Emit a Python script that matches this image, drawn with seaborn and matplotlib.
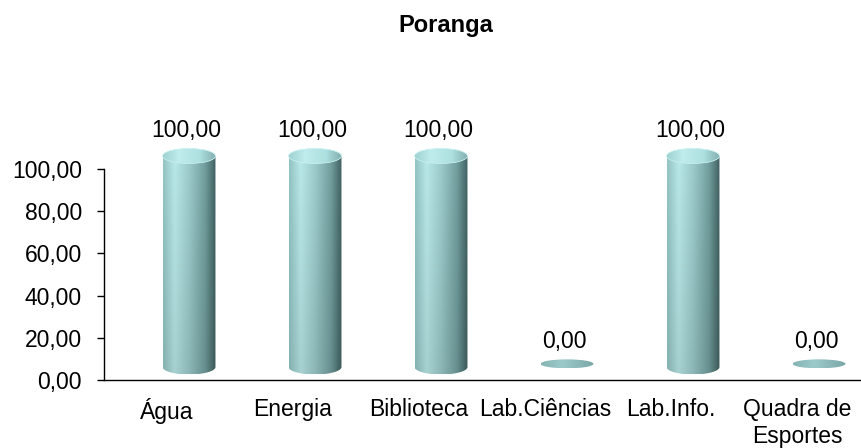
import numpy as np
import pandas as pd
import matplotlib
matplotlib.use("Agg")
import matplotlib.pyplot as plt
import seaborn as sns
from matplotlib.path import Path
from matplotlib.patches import PathPatch, Ellipse
from matplotlib.transforms import ScaledTranslation
from matplotlib.colors import LinearSegmentedColormap

# ---- data ----
title = "Poranga"
categories = ["Água", "Energia", "Biblioteca", "Lab.Ciências", "Lab.Info.", "Quadra de\nEsportes"]
values = [100.0, 100.0, 100.0, 0.0, 100.0, 0.0]
yticks = [0, 20, 40, 60, 80, 100]

def fmt(v):
    return f"{v:.2f}".replace(".", ",")

sns.set_theme(style="white")
plt.rcParams["font.family"] = ["Liberation Sans", "DejaVu Sans"]
plt.rcParams["text.color"] = "black"
plt.rcParams["xtick.color"] = "black"
plt.rcParams["ytick.color"] = "black"

W, H = 861, 448
px_per_unit = (380 - 169) / 100.0
ytop = 120.0
fig = plt.figure(figsize=(W / 100, H / 100), dpi=100)
ax = fig.add_axes([104 / W, (H - 380) / H, (860 - 104) / W, ytop * px_per_unit / H])
ax.patch.set_alpha(0)

df = pd.DataFrame({"cat": categories, "val": values})
sns.barplot(data=df, x="cat", y="val", ax=ax, width=0.42, color="#8fbcbc", errorbar=None)

ax.set_xlim(-0.5, len(categories) - 0.5)
ax.set_ylim(0, ytop)
ax.set_yticks(yticks)
ax.set_yticklabels([fmt(v) for v in yticks], fontsize=16.5)
ax.set_xticks(range(len(categories)))
ax.set_xticklabels(categories, fontsize=16.5)
ax.set_xticks(np.arange(-0.5, len(categories)), minor=True)
ax.tick_params(axis="x", which="major", length=0, pad=13)
ax.tick_params(axis="x", which="minor", length=6, width=1, color="black", direction="out")
ax.tick_params(axis="y", length=5, width=1, color="black", direction="out", pad=11, left=True)
ax.set_xlabel("")
ax.set_ylabel("")
for s in ["top", "right"]:
    ax.spines[s].set_visible(False)
for s in ["left", "bottom"]:
    ax.spines[s].set_color("black")
    ax.spines[s].set_linewidth(1.0)
ax.spines["left"].set_bounds(0, 100)

# 3D-like offset of cylinders
trans = ax.transData + ScaledTranslation(0.22, 0.13, fig.dpi_scale_trans)
ey = 7.5 / px_per_unit  # ellipse half-height in data units

body_cmap = LinearSegmentedColormap.from_list(
    "body", [(0.0, "#8fbfbf"), (0.22, "#b6e4e4"), (0.5, "#98c6c6"), (0.8, "#6f9a9a"), (1.0, "#3f5e5e")])
top_cmap = LinearSegmentedColormap.from_list(
    "top", [(0.0, "#9fd2d2"), (0.3, "#c0ecec"), (0.7, "#ade0e0"), (1.0, "#82acac")])
flat_cmap = LinearSegmentedColormap.from_list(
    "flat", [(0.0, "#86b4b4"), (0.4, "#9ccaca"), (1.0, "#7aa6a6")])

def grad_image(cmap, extent, clip, z, vshade=True):
    g = np.linspace(0, 1, 200)
    rgba = cmap(g)[None, :, :].repeat(60, axis=0)
    if vshade:
        f = np.linspace(0.92, 1.02, 60)[:, None, None]
        rgba[:, :, :3] = np.clip(rgba[:, :, :3] * f, 0, 1)
    im = ax.imshow(rgba, extent=extent, origin="lower", aspect="auto",
                   interpolation="bicubic", transform=trans, zorder=z)
    im.set_clip_box(None)
    im.set_clip_path(clip)
    return im

for p, v in zip(ax.patches, values):
    x0, w, h = p.get_x(), p.get_width(), p.get_height()
    p.set_visible(False)
    xc = x0 + w / 2
    t = np.linspace(np.pi, 2 * np.pi, 60)
    if h > 0:
        verts = [(x0, h)] + [(xc + w / 2 * np.cos(a), ey * np.sin(a)) for a in t] + [(x0 + w, h), (x0, h)]
        body = PathPatch(Path(verts, closed=True), transform=trans, facecolor="none", edgecolor="none")
        grad_image(body_cmap, [x0, x0 + w, -ey, h], body, 3)
        top = Ellipse((xc, h), w, 2 * ey, transform=trans, facecolor="none", edgecolor="none")
        grad_image(top_cmap, [x0, x0 + w, h - ey, h + ey], top, 4, vshade=False)
        rim = Ellipse((xc, h), w, 2 * ey, transform=trans, facecolor="none",
                      edgecolor="#c8f0f0", linewidth=0.6, zorder=5, clip_on=False)
        ax.add_patch(rim)
    else:
        fe = 4.5 / px_per_unit
        flat = Ellipse((xc, 1.5), w, 2 * fe, angle=0, transform=trans, facecolor="none", edgecolor="none")
        grad_image(flat_cmap, [x0, x0 + w, 1.5 - fe, 1.5 + fe], flat, 3, vshade=False)
    ax.annotate(fmt(v), xy=(xc, h), xytext=(19, 39), textcoords="offset pixels",
                ha="center", va="center", fontsize=16.5, color="black", annotation_clip=False)

fig.text(446 / W, 1 - 32 / H, title, ha="center", va="baseline", fontsize=17,
         fontweight="bold", color="black")

fig.savefig("out.png", dpi=100, facecolor="white")
